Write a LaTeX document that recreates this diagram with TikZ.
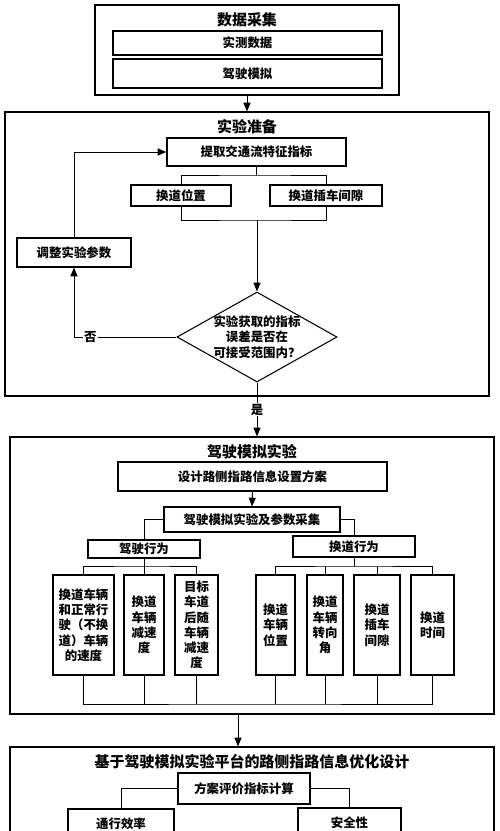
\documentclass[tikz,border=0pt]{standalone}
\usepackage{fontspec}
\setmainfont{Noto Sans CJK SC}[BoldFont={Noto Sans CJK SC Black}]
\usepackage{tikz}
\usetikzlibrary{arrows.meta}
\usetikzlibrary{shapes.geometric}
\newcommand\flowfont{\fontsize{10.6}{13}\selectfont\bfseries}
\newcommand\grpfont{\fontsize{12.8}{15}\selectfont\bfseries}
\begin{document}
\begin{tikzpicture}[x=0.03cm,y=-0.03cm,line width=0.8pt,
    grp/.style={draw,line width=0.9pt,inner sep=0pt},
    box/.style={draw,line width=0.9pt,inner sep=0pt,align=center,font=\flowfont},
    ttl/.style={inner sep=0pt,font=\grpfont},
    lbl/.style={fill=white,inner sep=1pt,font=\flowfont},
    arr/.style={-{Triangle[length=7.5pt,width=6pt]}}]
          \useasboundingbox (0,0) rectangle (500,831);
          \clip (0,0) rectangle (500,831);
          \node[grp,minimum width=9.12cm,minimum height=2.7cm] (grp1) at (247,50) {};
          \node[ttl] (t1) at (247,20) {数据采集};
          \node[box,minimum width=8.07cm,minimum height=0.72cm] (b11) at (247.5,43) {实测数据};
          \node[box,minimum width=8.07cm,minimum height=0.87cm] (b12) at (247.5,73.5) {驾驶模拟};
          \node[grp,minimum width=14.52cm,minimum height=8.52cm] (grp2) at (247,254) {};
          \node[ttl] (t2) at (247,127) {实验准备};
          \node[box,minimum width=5.37cm,minimum height=0.84cm] (b21) at (256.5,152) {提取交通流特征指标};
          \node[box,minimum width=3cm,minimum height=0.63cm] (b22) at (181,195.5) {换道位置};
          \node[box,minimum width=3.36cm,minimum height=0.63cm] (b23) at (326,195.5) {换道插车间隙};
          \node[box,minimum width=3.42cm,minimum height=0.87cm] (b24) at (74,252.5) {调整实验参数};
          \node[box,shape=diamond,aspect=1.78,inner xsep=-4pt,inner ysep=-3pt,
                minimum width=4.8cm,minimum height=2.7cm] (d2) at (257,337)
                {实验获取的指标\\误差是否在\\可接受范围内？};
          \coordinate (j1) at (256.5,175);
          \coordinate (j2) at (257,220);
            \draw[arr] (grp1.south) -- (grp2.north);
            \draw (b21.south) -- (j1);
            \draw (b22.north) |- (j1) -| (b23.north);
            \draw (b22.south) |- (j2) -| (b23.south);
            \draw[arr] (j2) -- (d2.north);
            \draw[arr] (d2.west) -| node[lbl,pos=0.42] {否} (b24.south);
            \draw[arr] (b24.north) |- (b21.west);
          \node[grp,minimum width=14.52cm,minimum height=8.31cm] (grp3) at (252,575.5) {};
          \node[ttl] (t3) at (252,452) {驾驶模拟实验};
            \draw[arr] (d2.south) -- node[lbl] {是} (d2.south |- grp3.north);
          \node[box,minimum width=8.07cm,minimum height=0.87cm] (b31) at (252.5,476.5) {设计路侧指路信息设置方案};
          \node[box,minimum width=5.28cm,minimum height=0.75cm] (b32) at (252,519.5) {驾驶模拟实验及参数采集};
          \node[box,minimum width=3.36cm,minimum height=0.54cm] (b33) at (144,549) {驾驶行为};
          \node[box,minimum width=3.66cm,minimum height=0.63cm] (b34) at (354,546.5) {换道行为};
          \node[box,minimum width=1.83cm,minimum height=3cm] (c1) at (83.5,625) {换道车辆\\和正常行\\驶（不换\\道）车辆\\的速度};
          \node[box,minimum width=1.2cm,minimum height=3cm] (c2) at (144,625) {换道\\车辆\\减速\\度};
          \node[box,minimum width=1.29cm,minimum height=3cm] (c3) at (196.5,625) {目标\\车道\\后随\\车辆\\减速\\度};
          \node[box,minimum width=1.17cm,minimum height=3cm] (c4) at (275.5,625) {换道\\车辆\\位置};
          \node[box,minimum width=1.08cm,minimum height=3cm] (c5) at (325,625) {换道\\车辆\\转向\\角};
          \node[box,minimum width=1.38cm,minimum height=3cm] (c6) at (377,625) {换道\\插车\\间隙};
          \node[box,minimum width=1.29cm,minimum height=3cm] (c7) at (432.5,625) {换道\\时间};
          \coordinate (j3) at (144,566);
          \coordinate (j4) at (354,566);
          \coordinate (j5) at (252,704);
            \draw[arr] (b31.south) -- (b32.north);
            \draw (b32.west) -| (b33.north);
            \draw (b32.east) -| (b34.north);
            \draw (b33.south) -- (c2.north);
            \draw (c1.north) |- (j3) -| (c3.north);
            \draw (b34.south) -- (j4);
            \draw (c4.north) |- (j4) -| (c7.north);
            \draw (c5.north) -- (c5.north |- j4);
            \draw (c6.north) -- (c6.north |- j4);
            \draw (c1.south) |- (j5) -| (c7.south);
            \draw (c2.south) -- (c2.south |- j5);
            \draw (c3.south) -- (c3.south |- j5);
            \draw (c4.south) -- (c4.south |- j5);
            \draw (c5.south) -- (c5.south |- j5);
            \draw (c6.south) -- (c6.south |- j5);
          \node[grp,minimum width=14.52cm,minimum height=3.69cm] (grp4) at (252,808.5) {};
          \node[ttl] (t4) at (252,762) {基于驾驶模拟实验平台的路侧指路信息优化设计};
          \node[box,minimum width=3.96cm,minimum height=0.93cm] (b41) at (244,788.5) {方案评价指标计算};
          \node[box,minimum width=3.18cm,minimum height=0.9cm] (b42) at (121,824) {通行效率};
          \node[box,minimum width=3.09cm,minimum height=0.9cm] (b43) at (349.5,823) {安全性};
            \draw[arr] ([xshift=-0.42cm]grp3.south) -- ([xshift=-0.42cm]grp4.north);
            \draw (b41.west) -| (b42.north);
            \draw (b41.east) -| (b43.north);
        \end{tikzpicture}
\end{document}
